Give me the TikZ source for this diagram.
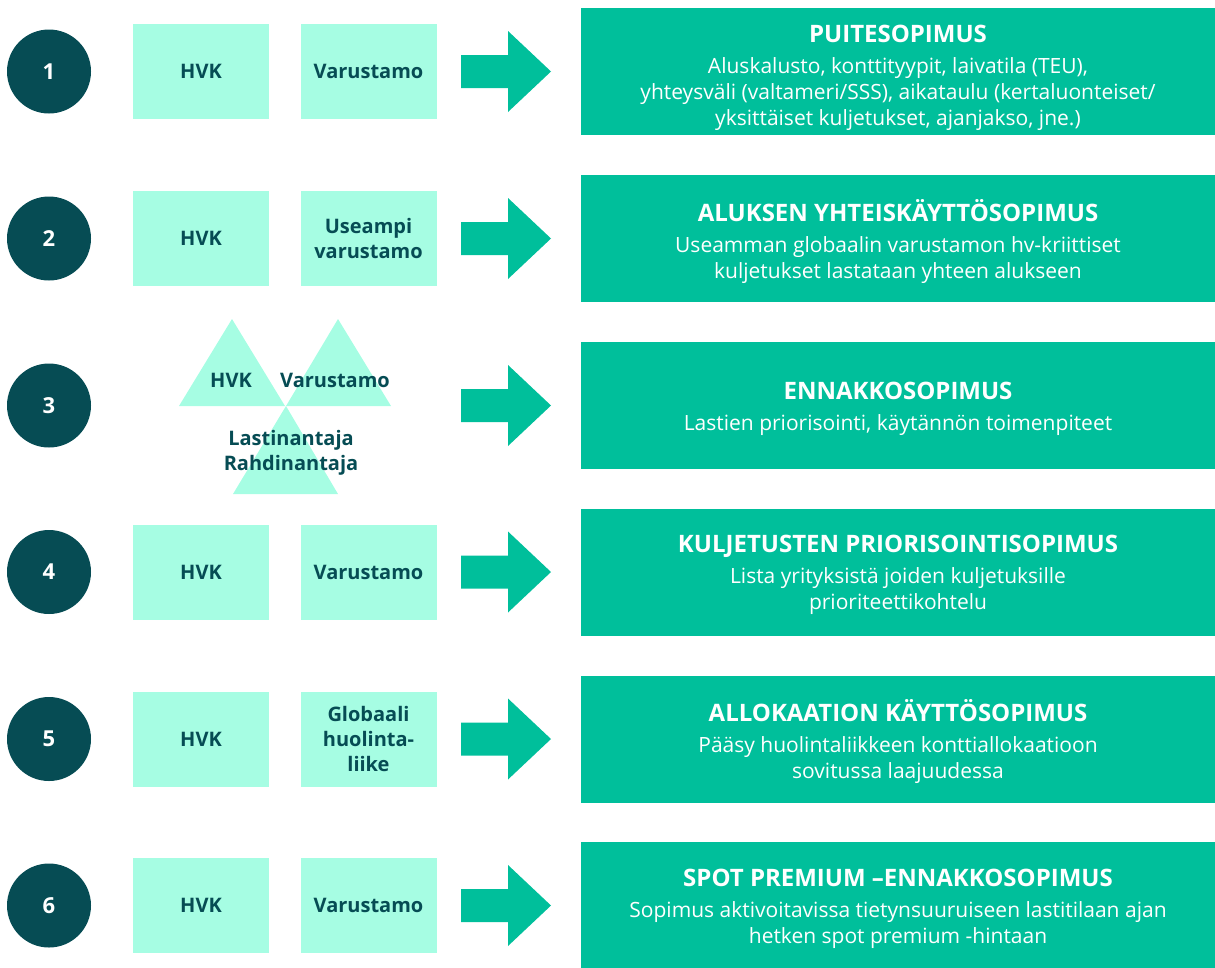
\documentclass[tikz,border=0pt]{standalone}
\usepackage{fontspec}
\setmainfont{Open Sans}
\definecolor{darkteal}{HTML}{064C54}
\definecolor{mint}{HTML}{A6FDE3}
\definecolor{green}{HTML}{00BF9B}
\tikzset{
  num/.style={circle, fill=darkteal, minimum size=84pt, inner sep=0pt, text=white, font=\fontsize{22}{26}\selectfont\bfseries},
  party/.style={fill=mint, minimum width=136pt, minimum height=95pt, inner sep=0pt, text=darkteal, align=center, font=\fontsize{20}{25}\selectfont\bfseries},
  tri/.style={fill=mint},
  trilabel/.style={text=darkteal, align=center, inner sep=0pt, font=\fontsize{20}{25}\selectfont\bfseries},
  deal/.style={fill=green, minimum width=634pt, minimum height=127pt, inner sep=0pt},
  dealtext/.style={text=white, align=center, inner sep=0pt, font=\fontsize{21}{26}\selectfont}
}
\newcommand{\dealtitle}[1]{{\fontsize{24}{26}\selectfont\bfseries #1}\\[5pt]}
\newcommand{\bigarrow}[1]{\fill[green] ($(#1)+(461,-16.5)$) -- ($(#1)+(508,-16.5)$) -- ($(#1)+(508,-40.5)$) -- ($(#1)+(551,0)$) -- ($(#1)+(508,40.5)$) -- ($(#1)+(508,16.5)$) -- ($(#1)+(461,16.5)$) -- cycle;}
\usetikzlibrary{calc}
\begin{document}
\begin{tikzpicture}[x=1pt,y=-1pt]
\useasboundingbox (0,0) rectangle (1215,967);
% row centres
\coordinate (r1) at (0,71.5);
\coordinate (r2) at (0,238.5);
\coordinate (r3) at (0,405.5);
\coordinate (r4) at (0,572);
\coordinate (r5) at (0,739);
\coordinate (r6) at (0,905.5);
% circles, arrows, deal boxes
\foreach \i in {1,...,6} {
  \node[num] (c\i) at ($(r\i)+(49,0)$) {\i};
  \bigarrow{r\i}
  \node[deal] (d\i) at ($(r\i)+(898,0)$) {};
}
% row 1
\node[party] (a1) at ($(r1)+(201,0)$) {HVK};
\node[party] (b1) at ($(r1)+(368.5,0)$) {Varustamo};
\node[dealtext] (t1) at ([yshift=-6pt]d1.center) {\dealtitle{PUITESOPIMUS}Aluskalusto, konttityypit, laivatila (TEU),\\yhteysväli (valtameri/SSS), aikataulu (kertaluonteiset/\\yksittäiset kuljetukset, ajanjakso, jne.)};
% row 2
\node[party] (a2) at ($(r2)+(201,0)$) {HVK};
\node[party] (b2) at ($(r2)+(368.5,0)$) {Useampi\\varustamo};
\node[dealtext] (t2) at ([yshift=-3pt]d2.center) {\dealtitle{ALUKSEN YHTEISKÄYTTÖSOPIMUS}Useamman globaalin varustamon hv-kriittiset\\kuljetukset lastataan yhteen alukseen};
% row 3 triangles
\fill[tri] (179,406) -- (285,406) -- (232,319) -- cycle;
\fill[tri] (286,406) -- (391,406) -- (338,319) -- cycle;
\fill[tri] (233,494) -- (338,494) -- (286,406) -- cycle;
\node[trilabel] (a3) at (231,380) {HVK};
\node[trilabel] (b3) at (335,380) {Varustamo};
\node[trilabel] (e3) at (291,453) {Lastinantaja\\Rahdinantaja};
\node[dealtext] (t3) at ([yshift=-3pt]d3.center) {\dealtitle{ENNAKKOSOPIMUS}Lastien priorisointi, käytännön toimenpiteet};
% row 4
\node[party] (a4) at ($(r4)+(201,0)$) {HVK};
\node[party] (b4) at ($(r4)+(368.5,0)$) {Varustamo};
\node[dealtext] (t4) at ([yshift=-3pt]d4.center) {\dealtitle{KULJETUSTEN PRIORISOINTISOPIMUS}Lista yrityksistä joiden kuljetuksille\\prioriteettikohtelu};
% row 5
\node[party] (a5) at ($(r5)+(201,0)$) {HVK};
\node[party] (b5) at ($(r5)+(368.5,0)$) {Globaali\\huolinta-\\liike};
\node[dealtext] (t5) at ([yshift=-3pt]d5.center) {\dealtitle{ALLOKAATION KÄYTTÖSOPIMUS}Pääsy huolintaliikkeen konttiallokaatioon\\sovitussa laajuudessa};
% row 6
\node[party] (a6) at ($(r6)+(201,0)$) {HVK};
\node[party] (b6) at ($(r6)+(368.5,0)$) {Varustamo};
\node[dealtext] (t6) at ([yshift=-3pt]d6.center) {\dealtitle{SPOT PREMIUM –ENNAKKOSOPIMUS}Sopimus aktivoitavissa tietynsuuruiseen lastitilaan ajan\\hetken spot premium -hintaan};
\end{tikzpicture}
\end{document}
